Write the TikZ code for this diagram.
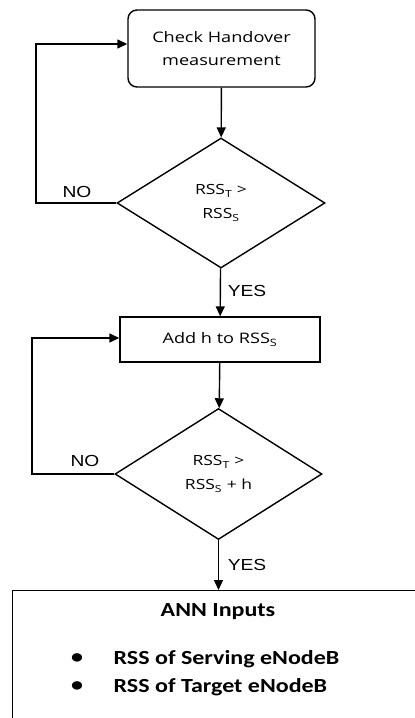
\documentclass[tikz,border=0pt]{standalone}
\usepackage{fontspec}
\setmainfont{Open Sans}[FakeStretch=1.25]
\newfontfamily\lblfont{Liberation Sans}[FakeStretch=1.2]
\newfontfamily\annfont{Carlito}[FakeStretch=1.2]
\usetikzlibrary{shapes.geometric,arrows.meta}
\newcommand\lowsub[1]{\textsubscript{#1}}
\begin{document}
\begin{tikzpicture}[x=1pt,y=-1pt,
  line width=1.4pt,
  flow/.style={-{Triangle[length=10pt,width=9pt]}},
  procbox/.style={draw, rectangle, inner sep=0pt, align=center, font=\fontsize{14.5}{23}\selectfont},
  decision/.style={draw, diamond, inner sep=0pt, align=center, font=\fontsize{14}{24}\selectfont},
  branch/.style={font=\lblfont\fontsize{16}{18}\selectfont, inner sep=0pt},
  anntext/.style={font=\annfont\bfseries\fontsize{20}{22}\selectfont, inner sep=0pt}]
\useasboundingbox (0,0) rectangle (415,718);

% process steps
\node[procbox, rounded corners=9pt, minimum width=187pt, minimum height=77pt] (check) at (221.5,48.5)
  {Check Handover\\measurement};
\node[decision, minimum width=208pt, minimum height=130pt] (d1) at (221,203)
  {RSS\lowsub{T} >\\RSS\lowsub{S}};
\node[procbox, minimum width=200pt, minimum height=45pt] (add) at (220,339.5)
  {Add h to RSS\lowsub{S}};
\node[decision, minimum width=207pt, minimum height=131pt] (d2) at (218.5,474)
  {RSS\lowsub{T} >\\RSS\lowsub{S} + h};
\node[draw, rectangle, anchor=north west, minimum width=430pt, minimum height=160pt] (ann) at (12,590) {};

% contents of the ANN box
\node[anntext] (anntitle) at (218,612) {ANN Inputs};
\node[anntext] (b1) at (77,659) {\textbullet};
\node[anntext] (b2) at (77,687) {\textbullet};
\node[anntext, anchor=west] (i1) at (113,659) {RSS of Serving eNodeB};
\node[anntext, anchor=west] (i2) at (113,687) {RSS of Target eNodeB};

% forward flow
\draw[flow] (check) -- (d1);
\draw[flow] (d1) -- (add);
\draw[flow] (add) -- (d2);
\draw[flow] (d2.south) -- (d2.south |- ann.north);

% feedback loops
\coordinate (loopa) at (36,44);
\coordinate (loopb) at (32,338);
\draw[flow] (d1.west) -| (loopa) -- (check.west |- loopa);
\draw[flow] (d2.west) -| (loopb) -- (add.west |- loopb);

% branch labels
\node[branch] (no1) at (77,192) {NO};
\node[branch] (yes1) at (247,291) {YES};
\node[branch] (no2) at (85,461) {NO};
\node[branch] (yes2) at (247,565) {YES};
\end{tikzpicture}
\end{document}
